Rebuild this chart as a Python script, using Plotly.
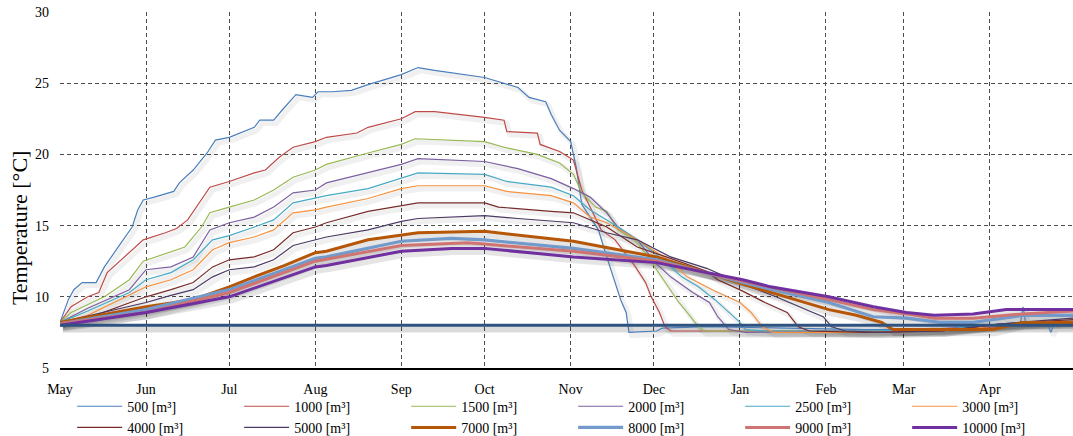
import plotly.graph_objects as go

# ---------------- data ----------------
month_labels = ["May", "Jun", "Jul", "Aug", "Sep", "Oct", "Nov", "Dec", "Jan", "Feb", "Mar", "Apr"]
month_starts = ["2014-05-01", "2014-06-01", "2014-07-01", "2014-08-01", "2014-09-01", "2014-10-01",
                "2014-11-01", "2014-12-01", "2015-01-01", "2015-02-01", "2015-03-01", "2015-04-01"]
x_range = ["2014-05-01", "2015-05-01"]
y_range = [5, 30]
y_ticks = [5, 10, 15, 20, 25, 30]

ref_temp = 8.0

d500 = ["2014-05-01", "2014-05-04", "2014-05-06", "2014-05-09", "2014-05-14", "2014-05-17", "2014-05-22",
        "2014-05-27", "2014-05-29", "2014-05-31", "2014-06-04", "2014-06-11", "2014-06-13", "2014-06-18",
        "2014-06-23", "2014-06-26", "2014-07-01", "2014-07-05", "2014-07-10", "2014-07-12", "2014-07-17",
        "2014-07-20", "2014-07-23", "2014-07-25", "2014-07-31", "2014-08-02", "2014-08-07", "2014-08-14",
        "2014-08-20", "2014-09-01", "2014-09-07", "2014-09-13", "2014-10-01", "2014-10-13", "2014-10-17",
        "2014-10-23", "2014-10-25", "2014-10-28", "2014-11-01", "2014-11-03", "2014-11-05", "2014-11-11",
        "2014-11-14", "2014-11-17", "2014-11-19", "2014-11-21", "2014-11-22", "2014-12-02", "2014-12-04",
        "2014-12-20", "2015-01-15", "2015-02-15", "2015-03-15", "2015-04-01", "2015-04-12", "2015-04-13",
        "2015-04-14", "2015-04-22", "2015-04-23", "2015-04-24", "2015-05-01"]
t500 = [8.2, 9.8, 10.5, 11.0, 11.0, 12.1, 13.5, 14.9, 16.1, 16.8, 17.0, 17.4, 18.0, 18.9,
        20.1, 21.0, 21.2, 21.5, 21.9, 22.4, 22.4, 23.1, 23.8, 24.2, 24.0, 24.4, 24.4, 24.5,
        24.9, 25.6, 26.1, 25.9, 25.4, 24.7, 24.0, 23.7, 22.8, 21.7, 20.9, 19.1, 16.5, 14.7,
        12.8, 11.0, 9.8, 8.9, 7.5, 7.6, 7.8, 7.9, 7.8, 7.7, 7.7, 7.9, 8.1, 9.3,
        8.1, 8.0, 7.5, 8.0, 8.0]

d1000 = ["2014-05-01", "2014-05-05", "2014-05-11", "2014-05-15", "2014-05-18", "2014-05-23", "2014-05-28",
         "2014-05-31", "2014-06-08", "2014-06-12", "2014-06-16", "2014-06-21", "2014-06-24", "2014-07-01",
         "2014-07-10", "2014-07-14", "2014-07-19", "2014-07-24", "2014-08-01", "2014-08-05", "2014-08-16",
         "2014-08-20", "2014-09-01", "2014-09-06", "2014-09-13", "2014-10-01", "2014-10-08", "2014-10-09",
         "2014-10-20", "2014-10-21", "2014-10-28", "2014-11-02", "2014-11-05", "2014-11-08", "2014-11-12",
         "2014-11-17", "2014-11-24", "2014-11-28", "2014-11-30", "2014-12-03", "2014-12-05", "2014-12-07",
         "2014-12-20", "2015-01-15", "2015-02-15", "2015-03-15", "2015-04-10", "2015-05-01"]
t1000 = [8.2, 9.3, 10.0, 10.3, 11.7, 12.6, 13.5, 14.0, 14.5, 14.8, 15.4, 16.8, 17.7, 18.1,
         18.7, 18.9, 19.8, 20.5, 20.9, 21.2, 21.5, 21.9, 22.5, 23.0, 23.0, 22.6, 22.4, 21.6,
         21.5, 20.7, 20.2, 19.6, 17.5, 16.3, 14.7, 14.0, 12.2, 11.0, 10.0, 8.9, 7.9, 7.6,
         7.6, 7.6, 7.6, 7.7, 8.0, 8.2]

d1500 = ["2014-05-01", "2014-05-05", "2014-05-17", "2014-05-26", "2014-05-31", "2014-06-09", "2014-06-15",
         "2014-06-21", "2014-06-24", "2014-07-01", "2014-07-10", "2014-07-17", "2014-07-24", "2014-08-01",
         "2014-08-05", "2014-08-20", "2014-09-01", "2014-09-06", "2014-10-01", "2014-10-08", "2014-10-20",
         "2014-10-28", "2014-11-02", "2014-11-05", "2014-11-10", "2014-11-14", "2014-11-18", "2014-11-24",
         "2014-11-29", "2014-12-02", "2014-12-07", "2014-12-10", "2014-12-13", "2014-12-17", "2014-12-19",
         "2015-01-15", "2015-02-15", "2015-03-15", "2015-04-10", "2015-05-01"]
t1500 = [8.2, 8.9, 10.0, 11.2, 12.5, 13.1, 13.5, 14.9, 15.9, 16.3, 16.8, 17.5, 18.4, 18.9,
         19.3, 20.1, 20.7, 21.1, 20.9, 20.5, 20.0, 19.4, 18.6, 17.3, 16.3, 16.0, 14.7, 14.0,
         12.8, 11.9, 10.5, 9.6, 8.9, 7.9, 7.6, 7.6, 7.6, 7.7, 8.1, 8.2]

d2000 = ["2014-05-01", "2014-05-11", "2014-05-26", "2014-06-01", "2014-06-10", "2014-06-18", "2014-06-24",
         "2014-07-01", "2014-07-10", "2014-07-17", "2014-07-24", "2014-08-01", "2014-08-05", "2014-08-20",
         "2014-09-01", "2014-09-07", "2014-10-01", "2014-10-13", "2014-10-25", "2014-11-02", "2014-11-08",
         "2014-11-14", "2014-11-18", "2014-11-25", "2014-12-02", "2014-12-07", "2014-12-15", "2014-12-21",
         "2014-12-24", "2014-12-28", "2015-01-03", "2015-02-01", "2015-03-01", "2015-04-01", "2015-05-01"]
t2000 = [8.2, 9.2, 10.5, 11.9, 12.1, 12.8, 14.7, 15.2, 15.6, 16.3, 17.3, 17.5, 18.0, 18.7,
         19.3, 19.7, 19.5, 19.0, 18.3, 17.6, 17.0, 15.9, 14.9, 14.0, 12.3, 11.4, 10.3, 9.6,
         8.6, 7.7, 7.5, 7.6, 7.6, 8.0, 8.3]

d2500 = ["2014-05-01", "2014-05-11", "2014-05-26", "2014-06-01", "2014-06-10", "2014-06-18", "2014-06-25",
         "2014-07-01", "2014-07-10", "2014-07-17", "2014-07-24", "2014-08-01", "2014-08-05", "2014-08-20",
         "2014-09-01", "2014-09-07", "2014-10-01", "2014-10-09", "2014-10-25", "2014-11-02", "2014-11-08",
         "2014-11-14", "2014-11-25", "2014-12-03", "2014-12-11", "2014-12-17", "2014-12-23", "2014-12-28",
         "2015-01-01", "2015-01-03", "2015-01-10", "2015-02-15", "2015-03-15", "2015-04-05", "2015-05-01"]
t2500 = [8.2, 9.0, 10.3, 11.2, 11.7, 12.6, 14.0, 14.3, 14.9, 15.4, 16.6, 16.9, 17.1, 17.6,
         18.3, 18.7, 18.6, 18.1, 17.7, 17.1, 16.1, 15.4, 14.0, 12.8, 11.4, 10.7, 9.8, 8.9,
         8.2, 7.7, 7.6, 7.6, 7.7, 8.1, 8.3]

d3000 = ["2014-05-01", "2014-05-11", "2014-06-01", "2014-06-10", "2014-06-18", "2014-06-25", "2014-07-01",
         "2014-07-10", "2014-07-17", "2014-07-24", "2014-08-01", "2014-08-05", "2014-08-20", "2014-09-01",
         "2014-09-07", "2014-10-01", "2014-10-09", "2014-10-25", "2014-11-02", "2014-11-08", "2014-11-14",
         "2014-11-25", "2014-12-06", "2014-12-13", "2014-12-22", "2015-01-01", "2015-01-05", "2015-01-09",
         "2015-01-13", "2015-02-15", "2015-03-15", "2015-04-05", "2015-05-01"]
t3000 = [8.2, 8.7, 10.7, 11.2, 11.9, 13.3, 13.8, 14.2, 14.7, 15.9, 16.1, 16.3, 16.9, 17.6,
         17.8, 17.8, 17.4, 17.1, 16.6, 15.6, 15.2, 14.0, 12.6, 11.4, 10.5, 9.6, 8.9, 7.9,
         7.5, 7.5, 7.6, 8.0, 8.3]

d4000 = ["2014-05-01", "2014-05-11", "2014-06-01", "2014-06-10", "2014-06-18", "2014-06-25", "2014-07-01",
         "2014-07-10", "2014-07-17", "2014-07-24", "2014-08-01", "2014-08-05", "2014-08-20", "2014-09-01",
         "2014-09-07", "2014-10-01", "2014-10-06", "2014-10-25", "2014-11-02", "2014-11-14", "2014-11-25",
         "2014-12-07", "2014-12-20", "2014-12-24", "2015-01-02", "2015-01-10", "2015-01-18", "2015-01-22",
         "2015-01-26", "2015-02-15", "2015-03-15", "2015-04-05", "2015-05-01"]
t4000 = [8.2, 8.5, 10.0, 10.5, 11.0, 12.1, 12.6, 12.8, 13.3, 14.5, 14.9, 15.2, 16.0, 16.4,
         16.6, 16.6, 16.3, 16.0, 15.9, 14.9, 13.5, 12.7, 11.8, 11.2, 10.4, 9.6, 8.9, 7.9,
         7.6, 7.5, 7.6, 8.1, 8.4]

d5000 = ["2014-05-01", "2014-06-01", "2014-06-10", "2014-06-18", "2014-06-25", "2014-07-01", "2014-07-10",
         "2014-07-17", "2014-07-24", "2014-08-01", "2014-08-05", "2014-08-20", "2014-09-01", "2014-09-07",
         "2014-10-01", "2014-10-13", "2014-11-02", "2014-11-14", "2014-11-25", "2014-12-07", "2014-12-20",
         "2015-01-02", "2015-01-14", "2015-01-26", "2015-01-31", "2015-02-03", "2015-02-08", "2015-02-20",
         "2015-03-15", "2015-04-05", "2015-05-01"]
t5000 = [8.2, 9.6, 10.1, 10.5, 11.4, 11.9, 12.1, 12.6, 13.6, 14.0, 14.2, 14.7, 15.3, 15.5,
         15.7, 15.5, 15.2, 14.5, 14.0, 12.8, 12.0, 10.9, 10.0, 9.0, 8.6, 7.9, 7.6, 7.5,
         7.6, 8.1, 8.5]

d7000 = ["2014-05-01", "2014-06-01", "2014-06-18", "2014-07-01", "2014-07-10", "2014-07-21", "2014-08-01",
         "2014-08-05", "2014-08-20", "2014-09-01", "2014-09-07", "2014-10-01", "2014-10-20", "2014-11-02",
         "2014-11-21", "2014-12-02", "2015-01-02", "2015-02-02", "2015-02-12", "2015-02-21", "2015-02-25",
         "2015-03-14", "2015-04-02", "2015-04-13", "2015-05-01"]
t7000 = [8.2, 9.3, 9.8, 10.7, 11.4, 12.2, 13.1, 13.2, 14.0, 14.3, 14.5, 14.6, 14.2, 13.9,
         13.2, 12.8, 10.9, 9.1, 8.7, 8.2, 7.7, 7.7, 7.7, 8.2, 8.2]

d8000 = ["2014-05-01", "2014-06-01", "2014-07-01", "2014-08-01", "2014-08-05", "2014-09-01", "2014-09-19",
         "2014-10-01", "2014-11-02", "2014-12-02", "2015-01-02", "2015-02-02", "2015-02-18", "2015-03-02",
         "2015-03-14", "2015-03-26", "2015-04-13", "2015-05-01"]
t8000 = [8.1, 9.1, 10.5, 12.7, 12.8, 13.9, 14.1, 14.0, 13.4, 12.6, 11.0, 9.6, 8.6, 8.5,
         8.2, 8.2, 8.7, 8.7]

d9000 = ["2014-05-01", "2014-06-01", "2014-07-01", "2014-08-01", "2014-09-01", "2014-09-25", "2014-10-01",
         "2014-11-02", "2014-12-02", "2015-01-02", "2015-02-02", "2015-02-18", "2015-03-02", "2015-03-12",
         "2015-03-26", "2015-04-13", "2015-05-01"]
t9000 = [8.1, 8.9, 10.3, 12.5, 13.6, 13.8, 13.7, 13.2, 12.5, 11.1, 9.8, 9.1, 8.8, 8.5,
         8.5, 8.8, 9.0]

d10000 = ["2014-05-01", "2014-06-01", "2014-07-01", "2014-08-01", "2014-08-05", "2014-09-01", "2014-09-19",
          "2014-10-01", "2014-11-02", "2014-12-02", "2015-01-02", "2015-01-12", "2015-02-02", "2015-02-18",
          "2015-03-02", "2015-03-12", "2015-03-26", "2015-04-07", "2015-05-01"]
t10000 = [8.0, 8.9, 10.0, 12.1, 12.2, 13.2, 13.4, 13.4, 12.8, 12.4, 11.2, 10.7, 10.0, 9.3,
          8.9, 8.7, 8.8, 9.1, 9.1]

series_names = ["500 [m³]", "1000 [m³]", "1500 [m³]", "2000 [m³]", "2500 [m³]", "3000 [m³]",
                "4000 [m³]", "5000 [m³]", "7000 [m³]", "8000 [m³]", "9000 [m³]", "10000 [m³]"]
series_dates = [d500, d1000, d1500, d2000, d2500, d3000, d4000, d5000, d7000, d8000, d9000, d10000]
series_temps = [t500, t1000, t1500, t2000, t2500, t3000, t4000, t5000, t7000, t8000, t9000, t10000]

# ---------------- styles ----------------
colors = ["#4A7EBB", "#BE4B48", "#98B954", "#7D60A0", "#46AAC5", "#F69240",
          "#772C2A", "#4B3A63", "#B65708", "#729ACA", "#D07472", "#7030A0"]
widths = [1.2, 1.2, 1.2, 1.2, 1.2, 1.2, 1.2, 1.2, 3, 3.2, 3, 3]
shadow_alpha = [0.06] * 8 + [0.10] * 4
ref_color = "#2F5381"
FONT = "Liberation Serif"

fig = go.Figure()

# soft shadows (same data drawn on slightly shifted hidden axes)
for d, t, w, a in zip(series_dates, series_temps, widths, shadow_alpha):
    fig.add_trace(go.Scatter(x=d, y=t, mode="lines", xaxis="x", yaxis="y",
                             line=dict(color=f"rgba(0,0,0,{a})", width=w + 4),
                             showlegend=False, hoverinfo="skip"))
fig.add_trace(go.Scatter(x=x_range, y=[ref_temp, ref_temp], mode="lines", xaxis="x", yaxis="y",
                         line=dict(color="rgba(0,0,0,0.14)", width=8),
                         showlegend=False, hoverinfo="skip"))

# real lines
for name, d, t, c, w in zip(series_names, series_dates, series_temps, colors, widths):
    fig.add_trace(go.Scatter(x=d, y=t, mode="lines", name=name, xaxis="x2", yaxis="y2",
                             line=dict(color=c, width=w)))
fig.add_trace(go.Scatter(x=x_range, y=[ref_temp, ref_temp], mode="lines", xaxis="x2", yaxis="y2",
                         line=dict(color=ref_color, width=3), showlegend=False))

grid_color = "#4D4D4D"
grid_dash = "4px,3px"

fig.update_layout(
    width=1073, height=436,
    margin=dict(l=60, r=0, t=12, b=68, autoexpand=False),
    paper_bgcolor="white", plot_bgcolor="white",
    font=dict(family=FONT, size=14, color="black"),
    xaxis=dict(range=["2014-04-30", "2015-04-30"], visible=False, showgrid=False),
    yaxis=dict(range=[y_range[0] + 0.22, y_range[1] + 0.22], visible=False, showgrid=False),
    xaxis2=dict(overlaying="x", range=x_range, tickmode="array", tickvals=month_starts,
                ticktext=month_labels, showgrid=True, gridcolor=grid_color, griddash=grid_dash,
                gridwidth=1, showline=True, linecolor="black", linewidth=2, ticks="",
                tickfont=dict(family=FONT, size=14, color="black"), zeroline=False,
                ticklabelstandoff=7, side="bottom"),
    yaxis2=dict(overlaying="y", range=y_range, tickmode="array", tickvals=y_ticks,
                showgrid=True, gridcolor=grid_color, griddash=grid_dash, gridwidth=1,
                showline=False, ticks="", zeroline=False,
                tickfont=dict(family=FONT, size=14, color="black"), ticklabelstandoff=10,
                side="left"),
    legend=dict(orientation="h", x=0.012, xanchor="left", yref="container", y=0.104,
                yanchor="top", entrywidth=107, entrywidthmode="pixels", itemwidth=45,
                font=dict(family=FONT, size=14, color="black"), bgcolor="rgba(0,0,0,0)",
                traceorder="normal", tracegroupgap=0),
    showlegend=True,
    annotations=[dict(text="Temperature [°C]", textangle=-90, xref="paper", yref="paper",
                      x=-0.0405, y=0.393, xanchor="center", yanchor="middle", showarrow=False,
                      font=dict(family=FONT, size=22, color="black"))],
)

fig.write_html("out.html")
